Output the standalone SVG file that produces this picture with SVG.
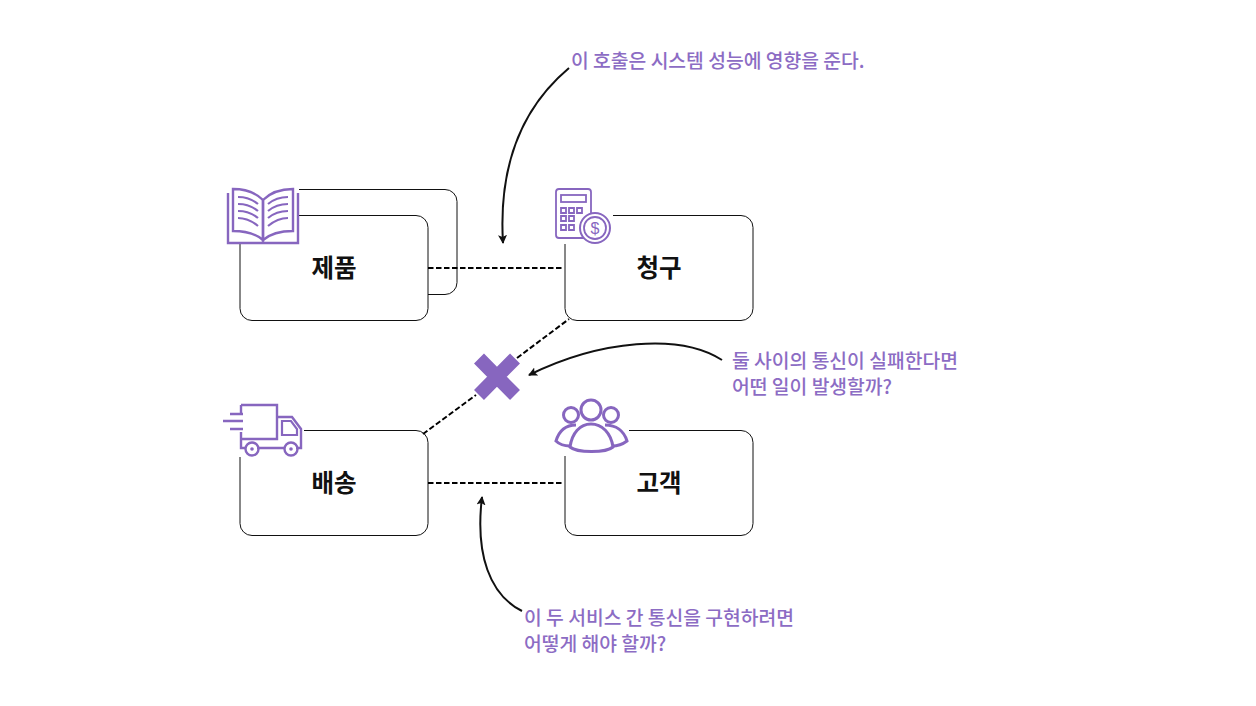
<svg xmlns="http://www.w3.org/2000/svg" width="1256" height="706" viewBox="0 0 1256 706">
<style>
.box{fill:#fff;stroke:#111;stroke-width:1}
.back{fill:none;stroke:#111;stroke-width:1}
.dash{fill:none;stroke:#000;stroke-width:2;stroke-dasharray:5.500 2.500}
.curve{fill:none;stroke:#111;stroke-width:2}
.lbl{font-family:"Noto Sans CJK KR","Noto Sans",sans-serif;font-size:24.500px;font-weight:700;fill:#111;text-anchor:middle}
.note{font-family:"Noto Sans CJK KR","Noto Sans",sans-serif;font-size:19.300px;font-weight:500;fill:#8c6cc4}
.ic{fill:none;stroke:#8766bf;stroke-width:2.400}
.ict{fill:none;stroke:#8766bf;stroke-width:1.800}
</style>
<defs>
<marker id="ah" markerWidth="11" markerHeight="11" refX="8" refY="4.500" orient="auto" markerUnits="userSpaceOnUse"><path d="M0 0L9 4.500L0 9L2 4.500Z" fill="#111"/></marker>
</defs>
<rect width="1256" height="706" fill="#fff"/>
<g id="node-product">
<rect class="back" x="269" y="189.500" width="188" height="105" rx="12"/>
<rect class="box" x="240" y="215.500" width="188" height="105" rx="12"/>
<text class="lbl" x="334" y="277">제품</text>
<g id="icon-book">
<rect x="227" y="188" width="72" height="56" fill="#fff"/>
<path class="ic" d="M228 193V243H298V193"/>
<path class="ic" d="M233 189C246 189 256 193 263 200V240C256 234 246 231 233 231Z"/>
<path class="ic" d="M293 189C280 189 270 193 263 200V240C270 234 280 231 293 231Z"/>
<path class="ict" style="stroke-width:2.200" d="M238 197C245 197 252 199 258 204M238 204C245 204 252 206 258 211M238 211C245 211 252 213 258 218M238 218C245 218 252 221 258 226"/>
<path class="ict" style="stroke-width:2.200" d="M288 197C281 197 274 199 268 204M288 204C281 204 274 206 268 211M288 211C281 211 274 213 268 218M288 218C281 218 274 221 268 226"/>
</g>
</g>
<g id="node-billing">
<rect class="box" x="565" y="215.500" width="188" height="105" rx="12"/>
<text class="lbl" x="659" y="277">청구</text>
<g id="icon-calculator">
<rect x="553" y="186" width="60" height="58" fill="#fff"/>
<rect class="ict" x="556" y="189" width="35" height="49" rx="3"/>
<rect class="ict" x="561" y="195" width="25" height="7"/>
<path class="ict" d="M561 208h5v5h-5zM569 208h5v5h-5zM577 208h5v5h-5zM561 216h5v5h-5zM569 216h5v5h-5zM561 225h5v5h-5zM569 225h5v5h-5z"/>
<circle cx="595" cy="228" r="15" fill="#fff" stroke="#8766bf" stroke-width="2"/>
<circle class="ict" cx="595" cy="228" r="11"/>
<text x="595" y="234" font-family="'Liberation Sans',sans-serif" font-size="16" fill="#8766bf" text-anchor="middle">$</text>
</g>
</g>
<g id="node-shipping">
<rect class="box" x="240" y="430.500" width="188" height="105" rx="12"/>
<text class="lbl" x="334" y="492">배송</text>
<g id="icon-truck">
<rect x="222" y="403" width="82" height="54" fill="#fff"/>
<path class="ic" d="M241 405H277V439H241M241 405V413M241 432V448H246M257 448H285M296 448H301V429L292 417H277"/>
<path class="ict" d="M282 421H291L297 429V435H282Z" style="stroke-width:2.200"/>
<circle class="ic" cx="252" cy="449" r="6.500"/>
<circle cx="252" cy="449" r="1.800" fill="#8766bf"/>
<circle class="ic" cx="291" cy="449" r="6.500"/>
<circle cx="291" cy="449" r="1.800" fill="#8766bf"/>
<path class="ic" d="M230 414H243M223 421H243M230 429H243"/>
</g>
</g>
<g id="node-customer">
<rect class="box" x="565" y="430.500" width="188" height="105" rx="12"/>
<text class="lbl" x="659" y="492">고객</text>
<g id="icon-people">
<rect x="553" y="398" width="76" height="58" fill="#fff"/>
<circle class="ic" style="stroke-width:3" cx="591" cy="410" r="10"/>
<circle class="ic" style="stroke-width:3" cx="571" cy="415" r="7.500"/>
<circle class="ic" style="stroke-width:3" cx="611" cy="415" r="7.500"/>
<path class="ic" style="stroke-width:3" d="M570 446C564 446 559 444 556 441C559 431 566 425 576 425"/>
<path class="ic" style="stroke-width:3" d="M612 446C618 446 623 444 627 441C624 431 616 425 605 425"/>
<path class="ic" style="stroke-width:3" d="M570 447C572 433 580 424 591 424C602 424 611 433 613 447C606 453 577 453 570 447Z"/>
</g>
</g>
<g id="connectors">
<path class="dash" d="M428 268H564"/>
<path class="dash" d="M428 483H564"/>
<path class="dash" d="M423 434L476 395"/>
<path class="dash" d="M517 358L569 319"/>
<path class="curve" marker-end="url(#ah)" d="M569 68C525 105 498 160 503 243"/>
<path class="curve" marker-end="url(#ah)" d="M722 360C680 333 600 340 529 375"/>
<path class="curve" marker-end="url(#ah)" d="M522 611C490 595 475 555 482 497"/>
</g>
<g id="x-mark">
<path d="M479 358.500L515 395M515 358.500L479 395" fill="none" stroke="#8766bf" stroke-width="14"/>
</g>
<g id="notes">
<text class="note" x="571" y="68">이 호출은 시스템 성능에 영향을 준다.</text>
<text class="note" x="732" y="368">둘 사이의 통신이 실패한다면</text>
<text class="note" x="732" y="394">어떤 일이 발생할까?</text>
<text class="note" x="524" y="625">이 두 서비스 간 통신을 구현하려면</text>
<text class="note" x="524" y="651">어떻게 해야 할까?</text>
</g>
</svg>
